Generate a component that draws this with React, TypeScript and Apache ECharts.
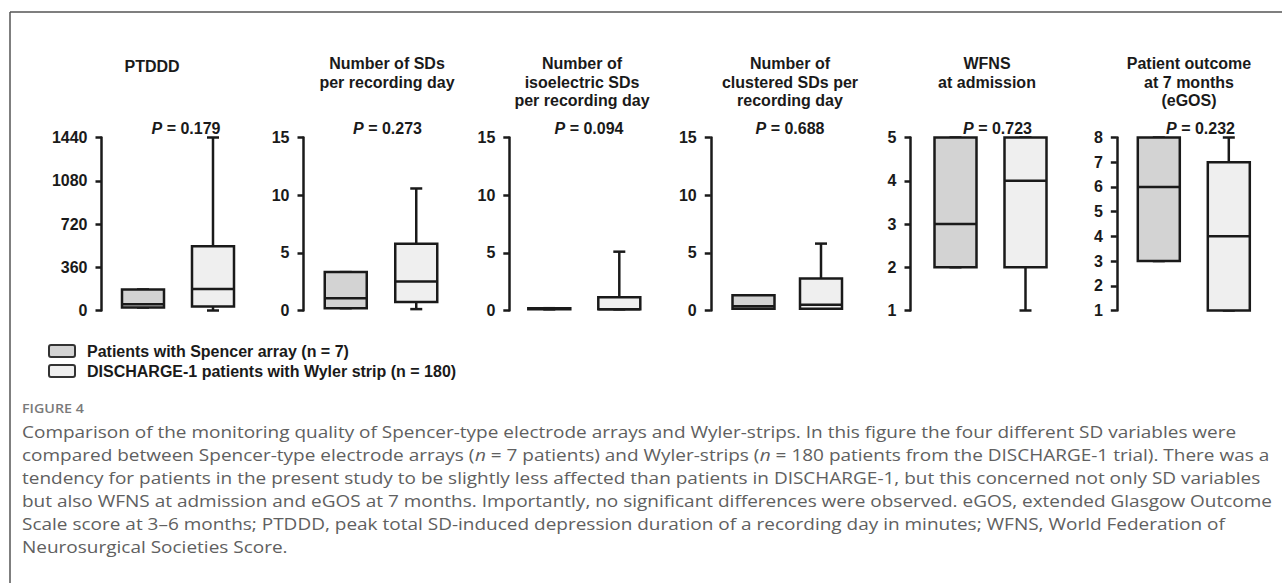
import React, { useEffect, useRef } from "react";
import * as echarts from "echarts";

const panelTitles = [
  "PTDDD",
  "Number of SDs\nper recording day",
  "Number of\nisoelectric SDs\nper recording day",
  "Number of\nclustered SDs per\nrecording day",
  "WFNS\nat admission",
  "Patient outcome\nat 7 months\n(eGOS)",
];
const pValues = ["0.179", "0.273", "0.094", "0.688", "0.723", "0.232"];
const groupNames = [
  "Patients with Spencer array (n = 7)",
  "DISCHARGE-1 patients with Wyler strip (n = 180)",
];
const groupKeys = ["Spencer", "Wyler"];
// [min, Q1, median, Q3, max]
const spencerStats = [
  [25, 25, 52, 175, 175],
  [0.2, 0.2, 1.07, 3.33, 3.33],
  [0.1, 0.1, 0.15, 0.2, 0.2],
  [0.15, 0.15, 0.37, 1.32, 1.32],
  [2, 2, 3, 5, 5],
  [3, 3, 6, 8, 8],
];
const wylerStats = [
  [0, 33, 180, 535, 1440],
  [0.12, 0.73, 2.52, 5.78, 10.58],
  [0.1, 0.1, 0.1, 1.15, 5.1],
  [0.15, 0.15, 0.49, 2.77, 5.8],
  [1, 2, 4, 5, 5],
  [1, 1, 4, 7, 8],
];
const yMins = [0, 0, 0, 0, 1, 1];
const yMaxs = [1440, 15, 15, 15, 5, 8];
const yIntervals = [360, 5, 5, 5, 1, 1];

const captionLines = [
  "Comparison of the monitoring quality of Spencer-type electrode arrays and Wyler-strips. In this figure the four different SD variables were",
  "compared between Spencer-type electrode arrays ({i|n} = 7 patients) and Wyler-strips ({i|n} = 180 patients from the DISCHARGE-1 trial). There was a",
  "tendency for patients in the present study to be slightly less affected than patients in DISCHARGE-1, but this concerned not only SD variables",
  "but also WFNS at admission and eGOS at 7 months. Importantly, no significant differences were observed. eGOS, extended Glasgow Outcome",
  "Scale score at 3\u20136 months; PTDDD, peak total SD-induced depression duration of a recording day in minutes; WFNS, World Federation of",
  "Neurosurgical Societies Score.",
];

const boxColors = ["#d3d3d3", "#efefef"];
const ink = "#1a1a1a";
const FONT = '"Liberation Sans", Arial, sans-serif';
const CAP_FONT = '"Open Sans", sans-serif';

const layout = [
  { left: 108, width: 140, offset: 6.5, titleX: 152, pX: 186 },
  { left: 310.5, width: 141, offset: 7, titleX: 387, pX: 387.5 },
  { left: 514.3, width: 140, offset: 5, titleX: 582, pX: 589 },
  { left: 719.75, width: 135, offset: 9, titleX: 790, pX: 790 },
  { left: 920.5, width: 140, offset: 10, titleX: 987, pX: 997.5 },
  { left: 1123.8, width: 140, offset: 7, titleX: 1189, pX: 1200.5 },
];

export default function App() {
  const ref = useRef<HTMLDivElement>(null);
  useEffect(() => {
    document.body.style.margin = "0";
    if (!ref.current) return;
    const chart = echarts.init(ref.current, null, { renderer: "svg" });

    const grids = layout.map((l) => ({ left: l.left, width: l.width, top: 137.5, height: 173 }));
    const xAxes = layout.map((_, i) => ({
      type: "category",
      gridIndex: i,
      data: groupKeys,
      show: false,
      boundaryGap: true,
    }));
    const yAxes = layout.map((l, i) => ({
      type: "value",
      gridIndex: i,
      min: yMins[i],
      max: yMaxs[i],
      interval: yIntervals[i],
      offset: l.offset,
      axisLine: { show: true, lineStyle: { color: ink, width: 2.5 } },
      axisTick: { show: true, length: 6, lineStyle: { color: ink, width: 2.5 } },
      splitLine: { show: false },
      axisLabel: {
        color: ink,
        fontSize: 16,
        fontWeight: "bold",
        fontFamily: FONT,
        margin: 14,
        formatter: (v: number) => String(v),
      },
    }));

    const series = layout.map((_, i) => ({
      type: "custom",
      xAxisIndex: i,
      yAxisIndex: i,
      data: [
        [0, ...spencerStats[i]],
        [1, ...wylerStats[i]],
      ],
      encode: { x: 0, y: [1, 2, 3, 4, 5] },
      renderItem: (params: any, api: any) => {
        const idx = api.value(0);
        const pt = (k: number) => api.coord([idx, api.value(k)]);
        const [cx, yMin] = pt(1);
        const yQ1 = pt(2)[1];
        const yMed = pt(3)[1];
        const yQ3 = pt(4)[1];
        const yMax = pt(5)[1];
        const hw = 21;
        const cw = 6;
        const ls = { stroke: ink, lineWidth: 2.5 };
        return {
          type: "group",
          children: [
            { type: "line", shape: { x1: cx, y1: yQ3, x2: cx, y2: yMax }, style: ls },
            { type: "line", shape: { x1: cx, y1: yQ1, x2: cx, y2: yMin }, style: ls },
            { type: "line", shape: { x1: cx - cw, y1: yMax, x2: cx + cw, y2: yMax }, style: ls },
            { type: "line", shape: { x1: cx - cw, y1: yMin, x2: cx + cw, y2: yMin }, style: ls },
            {
              type: "rect",
              shape: { x: cx - hw, y: yQ3, width: 2 * hw, height: yQ1 - yQ3 },
              style: { fill: boxColors[idx], stroke: ink, lineWidth: 2.5 },
            },
            { type: "line", shape: { x1: cx - hw, y1: yMed, x2: cx + hw, y2: yMed }, style: ls },
          ],
        };
      },
    }));

    const graphics: any[] = [];
    graphics.push({ type: "line", shape: { x1: 10, y1: 12, x2: 1282, y2: 12 }, style: { stroke: "#555", lineWidth: 1.5 } });
    graphics.push({ type: "line", shape: { x1: 10, y1: 12, x2: 10, y2: 583 }, style: { stroke: "#555", lineWidth: 1.5 } });

    layout.forEach((l, i) => {
      const single = !panelTitles[i].includes("\n");
      graphics.push({
        type: "text",
        x: l.titleX,
        y: single ? 57 : 54.5,
        style: {
          text: panelTitles[i],
          fontSize: 16,
          fontWeight: "bold",
          fontFamily: FONT,
          lineHeight: 18.5,
          fill: ink,
          align: "center",
          verticalAlign: "top",
        },
      });
      graphics.push({
        type: "text",
        x: l.pX,
        y: 128,
        style: {
          text: "{i|P} = " + pValues[i],
          fontSize: 16,
          fontWeight: "bold",
          fontFamily: FONT,
          fill: ink,
          align: "center",
          verticalAlign: "middle",
          rich: {
            i: { fontStyle: "italic", fontWeight: "bold", fontSize: 16, fontFamily: FONT, fill: ink },
          },
        },
      });
    });

    groupNames.forEach((name, k) => {
      const cy = 351 + k * 20;
      graphics.push({
        type: "rect",
        shape: { x: 49, y: cy - 6, width: 26, height: 12, r: 2 },
        style: { fill: boxColors[k], stroke: "#333", lineWidth: 2 },
      });
      graphics.push({
        type: "text",
        x: 87,
        y: cy,
        style: {
          text: name,
          fontSize: 16,
          fontWeight: "bold",
          fontFamily: FONT,
          fill: ink,
          verticalAlign: "middle",
        },
      });
    });

    graphics.push({
      type: "text",
      x: 22,
      y: 408,
      scaleX: 1.1,
      style: {
        text: "FIGURE 4",
        fontSize: 13,
        fontWeight: 600,
        fontFamily: CAP_FONT,
        fill: "#7a7a7a",
        verticalAlign: "middle",
      },
    });

    captionLines.forEach((line, k) => {
      graphics.push({
        type: "text",
        x: 22,
        y: 432 + k * 23,
        scaleX: 1.188,
        style: {
          text: line,
          fontSize: 16,
          fontFamily: CAP_FONT,
          fill: "#606060",
          verticalAlign: "middle",
          rich: {
            i: { fontStyle: "italic", fontSize: 16, fontFamily: CAP_FONT, fill: "#606060" },
          },
        },
      });
    });

    chart.setOption({
      animation: false,
      backgroundColor: "#ffffff",
      grid: grids,
      xAxis: xAxes,
      yAxis: yAxes,
      series,
      graphic: graphics,
    });
    return () => chart.dispose();
  }, []);
  return <div ref={ref} style={{ width: 1282, height: 583 }} />;
}
